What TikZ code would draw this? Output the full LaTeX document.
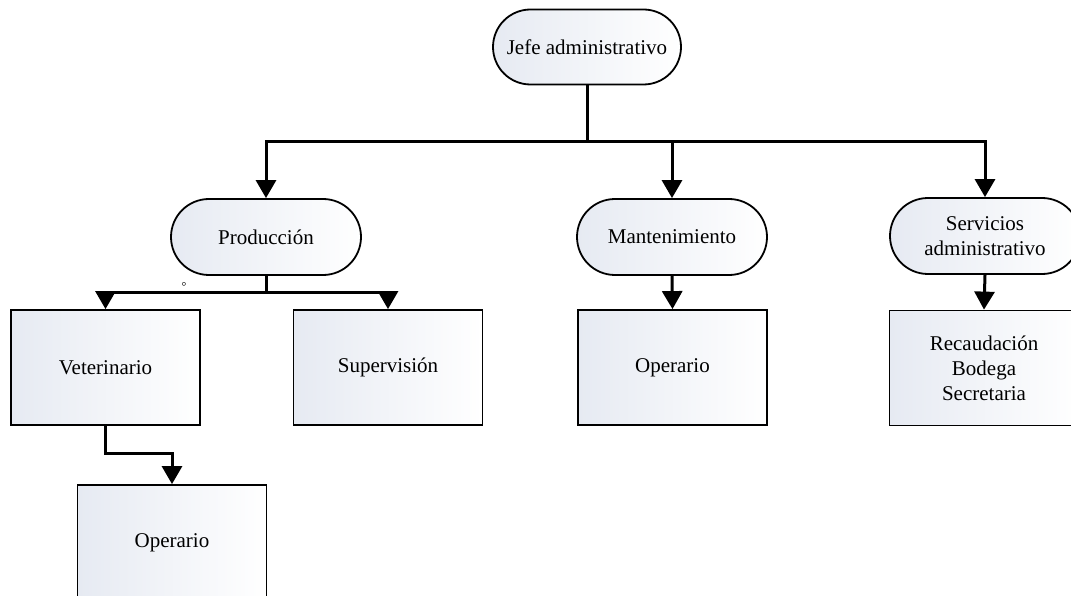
\documentclass[tikz,border=0pt]{standalone}
\usepackage{fontspec}
\setmainfont{Liberation Serif}
\usepackage{xcolor}
\usepackage{tikz}
\usetikzlibrary{arrows.meta,shapes}
\definecolor{fondo}{RGB}{230,234,242}

\begin{document}
\begin{tikzpicture}[x=1pt,y=-1pt,
        every node/.style={font=\fontsize{21}{25}\selectfont, align=center, inner sep=0pt},
        area/.style={rounded rectangle, draw, line width=1.8pt, left color=fondo, right color=white,
            minimum width=190pt, minimum height=76pt},
        cargo/.style={rectangle, draw, line width=1.8pt, left color=fondo, right color=white,
            minimum width=189pt, minimum height=115pt},
        conn/.style={line width=3pt},
        flecha/.style={conn, -{Triangle[width=20pt,length=18pt]}}]
        \useasboundingbox (0,0) rectangle (1071,596);
        \node[area, minimum width=188pt, minimum height=75pt] (jefe) at (587,47) {Jefe administrativo};
        \node[area] (prod) at (266,237) {Producción};
        \node[area] (mant) at (672,237) {Mantenimiento};
        \node[area] (serv) at (985,236) {Servicios\\administrativo};
        \node[cargo] (vet) at (105.5,367.5) {Veterinario};
        \node[cargo] (sup) at (388,367.5) {Supervisión};
        \node[cargo] (oper) at (672.5,367.5) {Operario};
        \node[cargo] (rec) at (984,368) {Recaudación\\Bodega\\Secretaria};
        \node[cargo] (operv) at (172,542.5) {Operario};
        \node[font=\fontsize{12}{12}\selectfont] (marca) at (184,287) {°};
        \coordinate (bus) at (587,142);
        \coordinate (pbus) at (266,292);
        \draw[conn] (jefe.south) -- (bus);
        \draw[flecha] (bus) -| (prod.north);
        \draw[flecha] (bus) -| (mant.north);
        \draw[flecha] (bus) -| (serv.north);
        \draw[conn] (prod.south) -- (pbus);
        \draw[flecha] (pbus) -| (vet.north);
        \draw[flecha] (pbus) -| (sup.north);
        \draw[flecha] (mant.south) -- (oper.north);
        \draw[flecha] (serv.south) -- (rec.north);
        \draw[flecha] (vet.south) -- ++(0,28) -| (operv.north);
    \end{tikzpicture}
\end{document}
